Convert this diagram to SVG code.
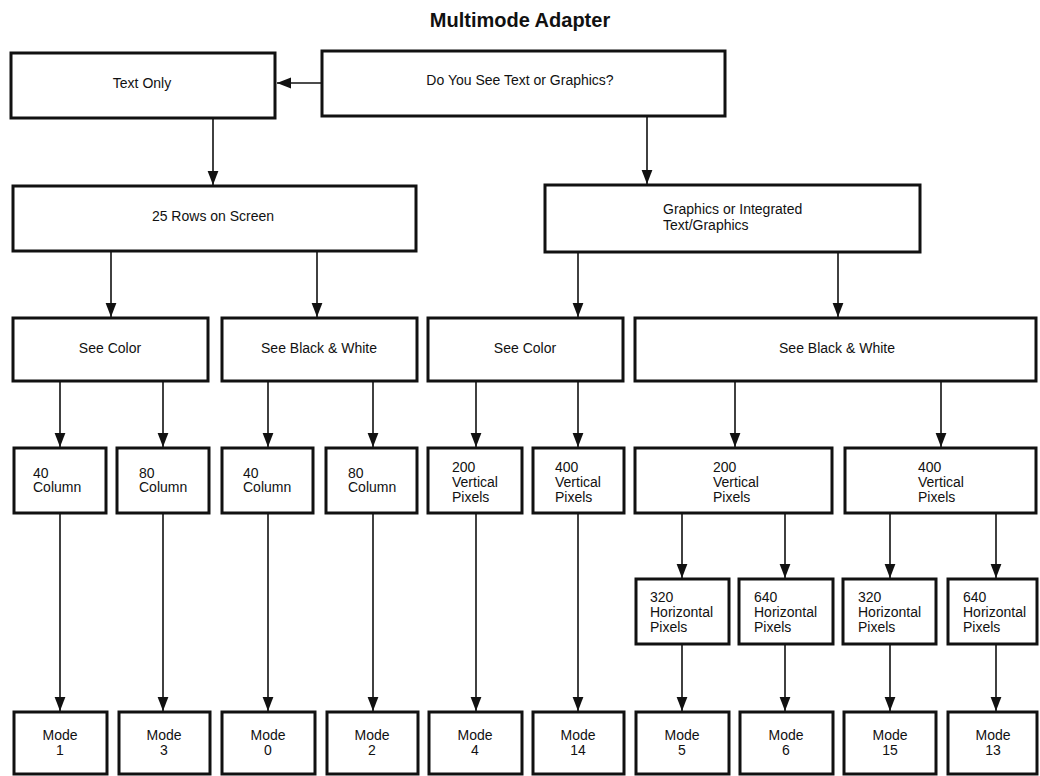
<svg xmlns="http://www.w3.org/2000/svg" width="1040" height="776" viewBox="0 0 1040 776">
<defs>
<marker id="ah" markerUnits="userSpaceOnUse" markerWidth="14" markerHeight="12" viewBox="0 0 13 10" refX="13" refY="5" orient="auto">
<path d="M0,0 L13,5 L0,10 Z" fill="#111"/>
</marker>
<style>
.b{fill:#fff;stroke:#111;stroke-width:3}
.t{font-family:"Liberation Sans",Arial,sans-serif;font-size:14px;fill:#111}
.c{text-anchor:middle}
.ttl{font-family:"Liberation Sans",Arial,sans-serif;font-size:20px;font-weight:bold;fill:#111;text-anchor:middle}
.l{stroke:#111;stroke-width:1.6;fill:none;marker-end:url(#ah)}
</style>
</defs>
<rect width="1040" height="776" fill="#fff"/>
<text class="ttl" x="520" y="27">Multimode Adapter</text>

<g id="connectors">
<line class="l" x1="322" y1="83" x2="277" y2="83"/>
<line class="l" x1="213" y1="118" x2="213" y2="185"/>
<line class="l" x1="647" y1="116" x2="647" y2="184"/>
<line class="l" x1="111" y1="251" x2="111" y2="317"/>
<line class="l" x1="317" y1="251" x2="317" y2="317"/>
<line class="l" x1="578" y1="252" x2="578" y2="317"/>
<line class="l" x1="838" y1="252" x2="838" y2="317"/>
<line class="l" x1="60" y1="381" x2="60" y2="447"/>
<line class="l" x1="163" y1="381" x2="163" y2="447"/>
<line class="l" x1="268" y1="381" x2="268" y2="447"/>
<line class="l" x1="373" y1="381" x2="373" y2="447"/>
<line class="l" x1="476" y1="381" x2="476" y2="447"/>
<line class="l" x1="578" y1="381" x2="578" y2="447"/>
<line class="l" x1="735" y1="381" x2="735" y2="447"/>
<line class="l" x1="941" y1="381" x2="941" y2="447"/>
<line class="l" x1="60" y1="513" x2="60" y2="711"/>
<line class="l" x1="163" y1="513" x2="163" y2="711"/>
<line class="l" x1="268" y1="513" x2="268" y2="711"/>
<line class="l" x1="373" y1="513" x2="373" y2="711"/>
<line class="l" x1="476" y1="513" x2="476" y2="711"/>
<line class="l" x1="578" y1="513" x2="578" y2="711"/>
<line class="l" x1="682" y1="513" x2="682" y2="578"/>
<line class="l" x1="785" y1="513" x2="785" y2="578"/>
<line class="l" x1="890" y1="513" x2="890" y2="578"/>
<line class="l" x1="996" y1="513" x2="996" y2="578"/>
<line class="l" x1="682" y1="644" x2="682" y2="711"/>
<line class="l" x1="785" y1="644" x2="785" y2="711"/>
<line class="l" x1="890" y1="644" x2="890" y2="711"/>
<line class="l" x1="996" y1="644" x2="996" y2="711"/>
</g>

<g id="text-only"><rect class="b" x="11" y="53" width="264" height="65"/><text class="t c" x="142" y="88">Text Only</text></g>
<g id="question"><rect class="b" x="322" y="51" width="403" height="65"/><text class="t c" x="520" y="85">Do You See Text or Graphics?</text></g>
<g id="rows25"><rect class="b" x="13" y="186" width="403" height="65"/><text class="t c" x="213" y="221">25 Rows on Screen</text></g>
<g id="graphics"><rect class="b" x="545" y="185" width="375" height="67"/><text class="t" x="663" y="214">Graphics or Integrated</text><text class="t" x="663" y="230">Text/Graphics</text></g>

<g id="see-color-1"><rect class="b" x="13" y="318" width="195" height="63"/><text class="t c" x="110" y="353">See Color</text></g>
<g id="see-bw-1"><rect class="b" x="222" y="318" width="195" height="63"/><text class="t c" x="319" y="353">See Black &amp; White</text></g>
<g id="see-color-2"><rect class="b" x="428" y="318" width="195" height="63"/><text class="t c" x="525" y="353">See Color</text></g>
<g id="see-bw-2"><rect class="b" x="635" y="318" width="401" height="63"/><text class="t c" x="837" y="353">See Black &amp; White</text></g>

<g id="col40-1"><rect class="b" x="14" y="448" width="92" height="65"/><text class="t" x="33" y="478">40</text><text class="t" x="33" y="492">Column</text></g>
<g id="col80-1"><rect class="b" x="117" y="448" width="92" height="65"/><text class="t" x="139" y="478">80</text><text class="t" x="139" y="492">Column</text></g>
<g id="col40-2"><rect class="b" x="222" y="448" width="91" height="65"/><text class="t" x="243" y="478">40</text><text class="t" x="243" y="492">Column</text></g>
<g id="col80-2"><rect class="b" x="326" y="448" width="91" height="65"/><text class="t" x="348" y="478">80</text><text class="t" x="348" y="492">Column</text></g>
<g id="vp200-c"><rect class="b" x="428" y="448" width="94" height="65"/><text class="t" x="452" y="472">200</text><text class="t" x="452" y="487">Vertical</text><text class="t" x="452" y="502">Pixels</text></g>
<g id="vp400-c"><rect class="b" x="533" y="448" width="91" height="65"/><text class="t" x="555" y="472">400</text><text class="t" x="555" y="487">Vertical</text><text class="t" x="555" y="502">Pixels</text></g>
<g id="vp200-bw"><rect class="b" x="635" y="448" width="197" height="65"/><text class="t" x="713" y="472">200</text><text class="t" x="713" y="487">Vertical</text><text class="t" x="713" y="502">Pixels</text></g>
<g id="vp400-bw"><rect class="b" x="845" y="448" width="191" height="65"/><text class="t" x="918" y="472">400</text><text class="t" x="918" y="487">Vertical</text><text class="t" x="918" y="502">Pixels</text></g>

<g id="hp320-a"><rect class="b" x="636" y="579" width="93" height="65"/><text class="t" x="650" y="602">320</text><text class="t" x="650" y="617">Horizontal</text><text class="t" x="650" y="632">Pixels</text></g>
<g id="hp640-a"><rect class="b" x="739" y="579" width="94" height="65"/><text class="t" x="754" y="602">640</text><text class="t" x="754" y="617">Horizontal</text><text class="t" x="754" y="632">Pixels</text></g>
<g id="hp320-b"><rect class="b" x="843" y="579" width="93" height="65"/><text class="t" x="858" y="602">320</text><text class="t" x="858" y="617">Horizontal</text><text class="t" x="858" y="632">Pixels</text></g>
<g id="hp640-b"><rect class="b" x="948" y="579" width="89" height="65"/><text class="t" x="963" y="602">640</text><text class="t" x="963" y="617">Horizontal</text><text class="t" x="963" y="632">Pixels</text></g>

<g id="mode1"><rect class="b" x="14" y="712" width="93" height="62"/><text class="t c" x="60" y="740">Mode</text><text class="t c" x="60" y="755">1</text></g>
<g id="mode3"><rect class="b" x="119" y="712" width="91" height="62"/><text class="t c" x="164" y="740">Mode</text><text class="t c" x="164" y="755">3</text></g>
<g id="mode0"><rect class="b" x="222" y="712" width="93" height="62"/><text class="t c" x="268" y="740">Mode</text><text class="t c" x="268" y="755">0</text></g>
<g id="mode2"><rect class="b" x="327" y="712" width="91" height="62"/><text class="t c" x="372" y="740">Mode</text><text class="t c" x="372" y="755">2</text></g>
<g id="mode4"><rect class="b" x="429" y="712" width="93" height="62"/><text class="t c" x="475" y="740">Mode</text><text class="t c" x="475" y="755">4</text></g>
<g id="mode14"><rect class="b" x="533" y="712" width="91" height="62"/><text class="t c" x="578" y="740">Mode</text><text class="t c" x="578" y="755">14</text></g>
<g id="mode5"><rect class="b" x="636" y="712" width="93" height="62"/><text class="t c" x="682" y="740">Mode</text><text class="t c" x="682" y="755">5</text></g>
<g id="mode6"><rect class="b" x="740" y="712" width="93" height="62"/><text class="t c" x="786" y="740">Mode</text><text class="t c" x="786" y="755">6</text></g>
<g id="mode15"><rect class="b" x="844" y="712" width="92" height="62"/><text class="t c" x="890" y="740">Mode</text><text class="t c" x="890" y="755">15</text></g>
<g id="mode13"><rect class="b" x="948" y="712" width="89" height="62"/><text class="t c" x="993" y="740">Mode</text><text class="t c" x="993" y="755">13</text></g>
</svg>
